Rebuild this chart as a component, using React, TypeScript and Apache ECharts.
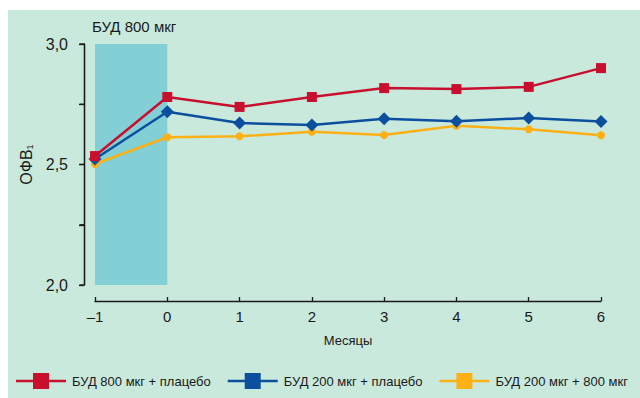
import React, { useEffect, useRef } from "react";
import * as echarts from "echarts";

const months = [-1, 0, 1, 2, 3, 4, 5, 6];
const seriesNames = ["БУД 800 мкг + плацебо", "БУД 200 мкг + плацебо", "БУД 200 мкг + 800 мкг"];
const red = [2.535, 2.78, 2.739, 2.78, 2.817, 2.813, 2.822, 2.9];
const blue = [2.523, 2.719, 2.672, 2.664, 2.69, 2.679, 2.693, 2.678];
const yellow = [2.502, 2.613, 2.617, 2.636, 2.622, 2.661, 2.646, 2.621];
const yTickValues = [2, 2.25, 2.5, 2.75, 3];
const bandX = [-1, 0];
const bandY = [2, 3];
const titleText = "БУД 800 мкг";
const xName = "Месяцы";

const FONT = "'Liberation Sans', Arial, sans-serif";
const TXT = "#1a1a1a";
const COLORS = ["#c8102e", "#0b4f9e", "#fbb116"];

export default function App() {
  const ref = useRef<HTMLDivElement>(null);
  useEffect(() => {
    if (!ref.current) return;
    const chart = echarts.init(ref.current, undefined, { renderer: "svg" });
    const pair = (arr: number[]) => months.map((m, i) => [m, arr[i]]);
    const legendIcon = "path://M0,6.8H50V9.2H0Z M17,0H33V16H17Z";
    chart.setOption({
      animation: false,
      title: {
        text: titleText,
        left: 84,
        top: 9,
        padding: 0,
        textStyle: { fontFamily: FONT, fontSize: 15, fontWeight: "normal", color: TXT },
      },
      legend: {
        left: 8,
        top: 363,
        padding: 0,
        itemWidth: 50,
        itemHeight: 16,
        itemGap: 17,
        textStyle: { fontFamily: FONT, fontSize: 13, color: TXT, padding: [0, 0, 0, 1] },
        data: seriesNames.map((n) => ({ name: n, icon: legendIcon })),
      },
      grid: [{ left: 87, right: 39, top: 34, bottom: 113 }],
      xAxis: [
        {
          type: "value",
          min: -1,
          max: 6,
          interval: 1,
          offset: 16,
          name: xName,
          nameLocation: "middle",
          nameGap: 33,
          nameTextStyle: { fontFamily: FONT, fontSize: 13, color: TXT },
          splitLine: { show: false },
          axisLine: { show: true, onZero: false, lineStyle: { color: TXT, width: 1.3 } },
          axisTick: { show: true, inside: true, length: 4, lineStyle: { color: TXT, width: 1.3 } },
          axisLabel: {
            fontFamily: FONT,
            fontSize: 15,
            color: TXT,
            margin: 8,
            formatter: (v: number) => (v < 0 ? "–" + Math.abs(v) : String(v)),
          },
        },
      ],
      yAxis: [
        {
          type: "value",
          min: bandY[0],
          max: bandY[1],
          interval: 0.25,
          position: "left",
          offset: 11,
          name: "{a|ОФВ}{s|1}",
          nameLocation: "middle",
          nameRotate: 90,
          nameGap: 48,
          nameTextStyle: {
            fontFamily: FONT,
            color: TXT,
            rich: {
              a: { fontFamily: FONT, fontSize: 16, color: TXT },
              s: { fontFamily: FONT, fontSize: 9, color: TXT, verticalAlign: "bottom", padding: [8, 0, 0, 0] },
            },
          },
          splitLine: { show: false },
          axisLine: { show: true, onZero: false, lineStyle: { color: TXT, width: 1.3 } },
          axisTick: { show: true, length: 5, lineStyle: { color: TXT, width: 1.3 } },
          axisLabel: {
            fontFamily: FONT,
            fontSize: 16,
            color: TXT,
            margin: 16,
            formatter: (v: number) =>
              Math.abs(v * 2 - Math.round(v * 2)) < 1e-6 ? v.toFixed(1).replace(".", ",") : "",
          },
        },
      ],
      series: [
        {
          name: seriesNames[2],
          type: "line",
          data: pair(yellow),
          symbol: "circle",
          symbolSize: 8,
          lineStyle: { color: COLORS[2], width: 2.5 },
          itemStyle: { color: COLORS[2] },
          markArea: {
            silent: true,
            itemStyle: { color: "#82cfd5", opacity: 1 },
            data: [[{ coord: [bandX[0], bandY[0]] }, { coord: [bandX[1], bandY[1]] }]],
          },
        },
        {
          name: seriesNames[1],
          type: "line",
          data: pair(blue),
          symbol: "diamond",
          symbolSize: 13,
          lineStyle: { color: COLORS[1], width: 2.5 },
          itemStyle: { color: COLORS[1] },
        },
        {
          name: seriesNames[0],
          type: "line",
          data: pair(red),
          symbol: "rect",
          symbolSize: 10,
          lineStyle: { color: COLORS[0], width: 2.5 },
          itemStyle: { color: COLORS[0] },
        },
      ],
    });
    try {
      const origin = chart.convertToPixel({ xAxisIndex: 0, yAxisIndex: 0 }, [bandX[0], bandY[0]]) as number[];
      const axisX = Math.round(origin[0] - 11) + 0.5;
      const ys = yTickValues.map((v) => chart.convertToPixel({ yAxisIndex: 0 }, v) as number);
      const yMin = Math.min(...ys);
      const yMax = Math.max(...ys);
      const elements: any[] = [
        {
          type: "line",
          silent: true,
          shape: { x1: axisX, y1: yMin, x2: axisX, y2: yMax },
          style: { stroke: TXT, lineWidth: 1.3 },
        },
        ...ys.map((py) => ({
          type: "line",
          silent: true,
          shape: { x1: axisX - 5, y1: py, x2: axisX, y2: py },
          style: { stroke: TXT, lineWidth: 1.3 },
        })),
      ];
      chart.setOption({ graphic: elements });
    } catch (e) {
      // ignore
    }
    return () => chart.dispose();
  }, []);
  return (
    <div
      ref={ref}
      style={{ position: "absolute", left: 8, top: 10, width: 632, height: 388, background: "#c9e9dd" }}
    />
  );
}
